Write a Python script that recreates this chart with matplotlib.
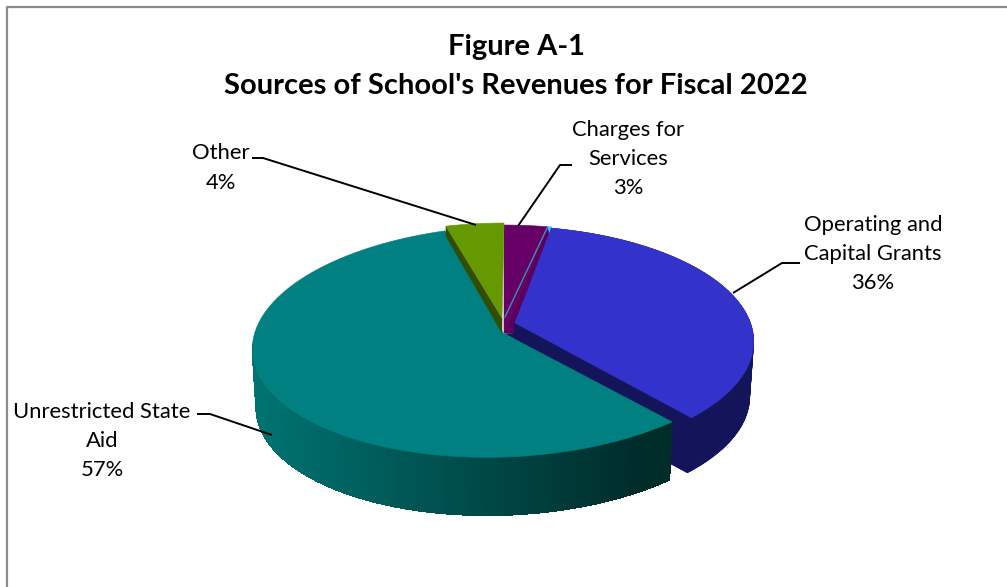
import numpy as np
import matplotlib
matplotlib.use('Agg')
import matplotlib.pyplot as plt
from matplotlib.patches import Polygon

# revenue shares, clockwise from twelve o'clock
categories = ['Charges for\nServices', 'Operating and\nCapital Grants', 'Unrestricted State\nAid', 'Other']
shares = [3, 36, 57, 4]
title_lines = ['Figure A-1', "Sources of School's Revenues for Fiscal 2022"]

W, H = 1007, 587
CX, CY = 503, 333      # pie centre on the top face
RX, RY = 250, 114.9    # radii before perspective
PERSP = 0.074          # far edge of the pie shrinks by this much
DEPTH = 58

plt.rcParams['font.family'] = ['Lato', 'DejaVu Sans']


def project(theta, r=1.0, tilt=0.0):
    # theta is clockwise from the top, r=1 is the rim
    u = r * np.sin(theta)
    v = r * np.cos(theta)
    w = 1 + PERSP * v
    x = RX * u / w
    y = -RY * v / w
    return CX + x, CY + y + tilt * x


def rim(start, stop, tilt=0.0, n=80):
    t = np.linspace(start, stop, n)
    x, y = project(t, tilt=tilt)
    return np.column_stack([x, y])


def poly(ax, pts, color, z, **kw):
    ax.add_patch(Polygon(pts, closed=True, facecolor=color, edgecolor=color,
                         linewidth=0.4, zorder=z, **kw))


fig = plt.figure(figsize=(W / 100, H / 100), dpi=100)
ax = fig.add_axes([0, 0, 1, 1])
ax.set_xlim(0, W)
ax.set_ylim(H, 0)
ax.axis('off')

# slice boundaries in radians
edges = np.cumsum([0] + shares) / sum(shares) * 2 * np.pi
a_charges = edges[0], edges[1]
a_grants = edges[1], edges[2]
a_state = edges[2], edges[3]
a_other = edges[3], edges[4]

# chart border, only the left and top edges fall inside the image
ax.plot([7, 7, W + 5], [H + 5, 7, 7], color='#8c8c8c', lw=1.6, zorder=1, clip_on=True)

# Charges for Services
r = rim(*a_charges, n=12) + [1, -1]
poly(ax, np.vstack([[504, 333], r]), '#660066', 3)
poly(ax, [r[-1], r[-1] + [2, 10], [515, 323], [515, 333], [504, 333]], '#5c005c', 3)
poly(ax, [r[-1], r[-1] + [4, 0], r[-1] + [3, 8]], '#33ccff', 3.1)
ax.plot([r[-1][0], 505], [r[-1][1], 317], color='#3a8fb5', lw=1.0, zorder=3.2)

# Operating and Capital Grants, drawn with a small gap before the next slice
grants_apex = np.array([515, 323])
shift = np.array([-4, 55])
r = rim(a_grants[0] + 0.02, a_grants[1] - 0.105)
navy = '#14145a'
poly(ax, np.vstack([grants_apex, r]) + shift, navy, 4)
for i in range(len(r) - 1):
    poly(ax, [r[i], r[i + 1], r[i + 1] + shift, r[i] + shift], navy, 4)
poly(ax, [grants_apex, r[-1], r[-1] + shift, grants_apex + shift], navy, 4)
poly(ax, [grants_apex, [515, 333], [504, 334], r[-1]], navy, 4)
poly(ax, np.vstack([grants_apex, r]), '#3333cc', 5)

# Unrestricted State Aid, side wall shaded in thin strips
tilt = -0.03
r = rim(*a_state, tilt=tilt, n=300)
light = np.array([0x00, 0x72, 0x70]) / 255
dark = np.array([0x00, 0x2c, 0x2a]) / 255
# the lower edge of the wall is slightly narrower
bottom = r.copy()
bottom[:, 0] = CX + (bottom[:, 0] - CX) * 0.985
bottom[:, 1] += DEPTH
for i in range(len(r) - 1):
    if r[i][1] < 345 and r[i][0] < CX:
        continue
    f = np.clip((r[i][0] - 260) / (640 - 260), 0, 1)
    col = light * (1 - f) + dark * f
    poly(ax, [r[i], r[i + 1], bottom[i + 1], bottom[i]], col, 6, antialiased=False)
poly(ax, np.vstack([[CX, CY], r]), '#008080', 7)

# Other
r = rim(*a_other, n=12) + [1, -3]
apex = np.array([502, 318])
poly(ax, [r[0], r[0] + [0, 10], [502, 333], apex], '#334d00', 8)
poly(ax, np.vstack([apex, r]), '#669900', 9)

# data labels with leader lines
label_xy = [(628, 159), (873, 254), (102, 441), (221, 168)]
leaders = [
    [(518, 226), (560, 165), (572, 165)],
    [(733, 293), (782, 263), (800, 263)],
    [(272, 435), (210, 414), (197, 414)],
    [(476, 225), (263, 158), (252, 158)],
]
for name, val, xy, pts in zip(categories, shares, label_xy, leaders):
    ax.text(xy[0], xy[1], f'{name}\n{val}%', ha='center', va='center', fontsize=15.8,
            color='black', linespacing=1.58, zorder=10)
    px, py = zip(*pts)
    ax.plot(px, py, color='black', lw=1.4, zorder=10, solid_capstyle='butt')

ax.text(516, 47, title_lines[0], ha='center', va='center', fontsize=21, fontweight='bold', color='black')
ax.text(516, 86, title_lines[1], ha='center', va='center', fontsize=21, fontweight='bold', color='black')

fig.savefig('out.png', dpi=100)
